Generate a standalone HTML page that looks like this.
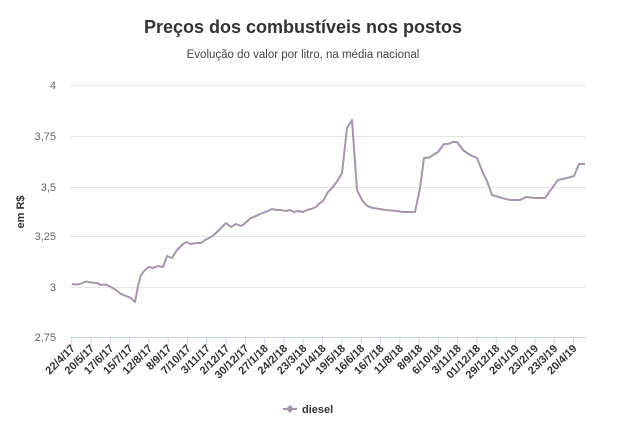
<!DOCTYPE html>
<html><head><meta charset="utf-8"><style>
body{margin:0;background:#fff;}
svg text{font-family:"Liberation Sans","DejaVu Sans",sans-serif;}
</style></head><body>
<svg width="638" height="436" xmlns="http://www.w3.org/2000/svg">
<rect width="638" height="436" fill="#fff"/>
<text x="303" y="33" text-anchor="middle" font-size="18" font-weight="bold" fill="#333">Preços dos combustíveis nos postos</text>
<text x="303" y="58" text-anchor="middle" font-size="11.5" fill="#444">Evolução do valor por litro, na média nacional</text>
<g stroke="#e6e6e6" stroke-width="1">
<line x1="70" x2="586" y1="85.5" y2="85.5"/>
<line x1="70" x2="586" y1="136.5" y2="136.5"/>
<line x1="70" x2="586" y1="187.5" y2="187.5"/>
<line x1="70" x2="586" y1="236.5" y2="236.5"/>
<line x1="70" x2="586" y1="287.5" y2="287.5"/>
</g>
<line x1="70" x2="586" y1="337.5" y2="337.5" stroke="#ccd6eb"/>
<g font-size="11" fill="#666" text-anchor="end">
<text x="56" y="89">4</text><text x="56" y="140">3,75</text><text x="56" y="191">3,5</text><text x="56" y="240">3,25</text><text x="56" y="291">3</text><text x="56" y="341">2,75</text>
</g>
<text transform="translate(24,212) rotate(-90)" text-anchor="middle" font-size="11" font-weight="bold" fill="#333">em R$</text>
<g id="ticks" stroke="#ccd6eb"></g>
<g id="labels" font-size="11" font-weight="bold" fill="#333" text-anchor="end"></g>
<polyline fill="none" stroke="#a895ae" stroke-width="2" stroke-linejoin="round" points="72,284 76,284.5 80,284 86,281.5 91,282.5 97,283 101,285 106,284.5 111,287 116,290 121,294 126,296 130,297.5 135,302 138,286 141,275 145,270 149,267 153,268 158,266 163,267 167,256 172,258 177,250 182,245 186,242 191,244 196,243 201,243 205,240 211,237 215,234 220,229 226,223 231,227 236,224 241,226 244,224 251,218 256,216 260,214 264,212.5 268,211 272,209 276,210 281,210 286,211 290,210 294,212 298,211 303,212 307,210 311,209 316,207 320,203 323,201 328,192 333,187 338,180 342,173 347,128 352,120 357,190 362,200 367,206 373,208 380,209 385,210 397,211 403,212 415,212 420,188 424,158 429,157.5 438,152 444,144 448,144 453,142 457,142 463,150 470,155 477,158 483,173 487,181 492,195 502,198 510,200 520,200 526,197 535,198 545,198 550,191 558,180 567,178 574,176 579,164 585,164"/>
<line x1="283" x2="297" y1="409" y2="409" stroke="#a895ae" stroke-width="2"/>
<path d="M290,405 L294,409 L290,413 L286,409Z" fill="#a895ae"/>
<text x="302" y="413" font-size="11" font-weight="bold" fill="#333">diesel</text>
<script>
var L="22/4/17,20/5/17,17/6/17,15/7/17,12/8/17,8/9/17,7/10/17,3/11/17,2/12/17,30/12/17,27/1/18,24/2/18,23/3/18,21/4/18,19/5/18,16/6/18,16/7/18,11/8/18,8/9/18,6/10/18,3/11/18,01/12/18,29/12/18,26/1/19,23/2/19,23/3/19,20/4/19".split(",");
var t=document.getElementById("ticks"),g=document.getElementById("labels"),ns="http://www.w3.org/2000/svg";
L.forEach(function(s,i){var x=71.7+i*19.3;
var l=document.createElementNS(ns,"line");l.setAttribute("x1",x);l.setAttribute("x2",x);l.setAttribute("y1",337);l.setAttribute("y2",345);t.appendChild(l);
var e=document.createElementNS(ns,"text");e.setAttribute("transform","translate("+(x+4)+",349) rotate(-45)");e.textContent=s;g.appendChild(e);});
</script>
</svg>
</body></html>
